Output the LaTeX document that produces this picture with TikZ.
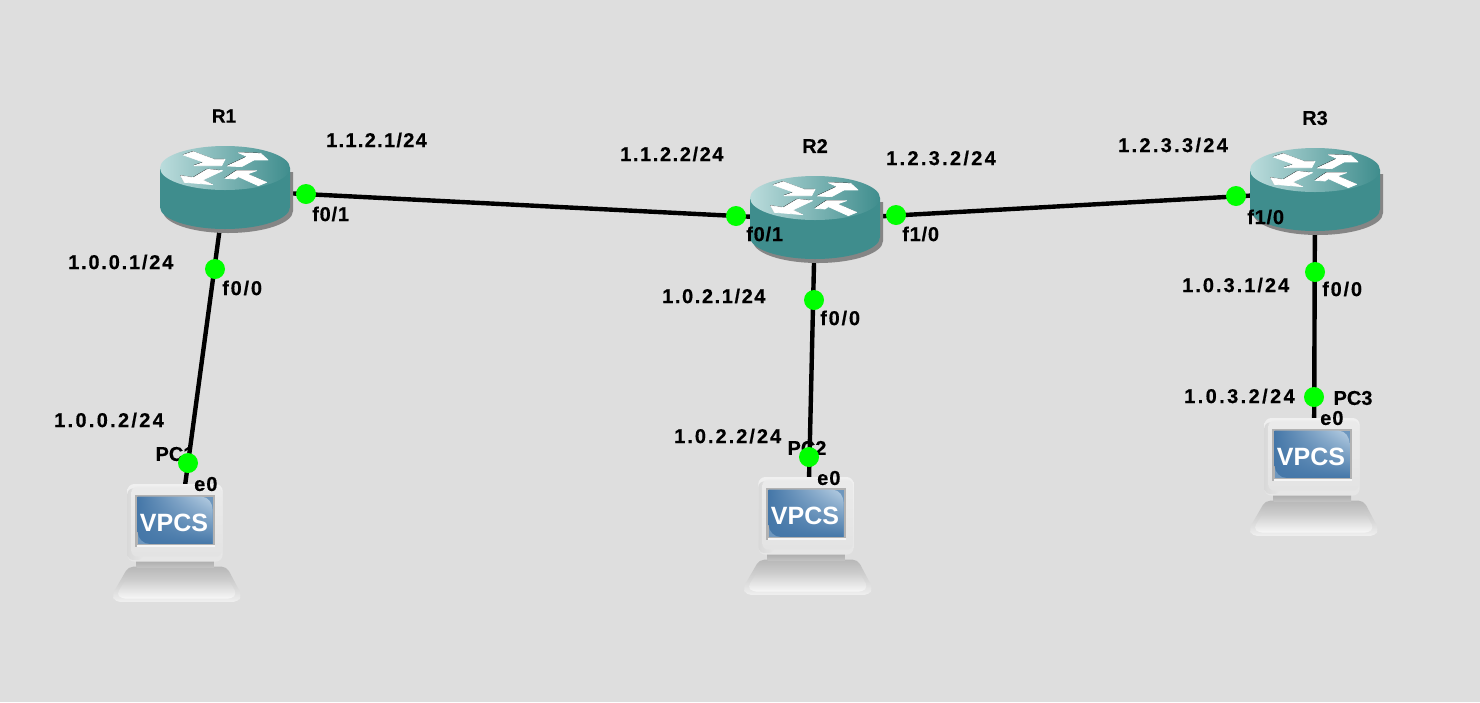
\documentclass[tikz,border=0pt]{standalone}
\usepackage{fontspec}
\usetikzlibrary{shadings}
\setmainfont{Liberation Sans}
\definecolor{bgc}{HTML}{DEDEDE}
\definecolor{teal1}{HTML}{3F8D8D}
\definecolor{teal2}{HTML}{BBDCDC}
\definecolor{shadowc}{HTML}{858585}
\definecolor{port}{HTML}{00FF00}
\definecolor{scra}{HTML}{4577A8}
\definecolor{scrb}{HTML}{B9D0E4}
\definecolor{scrc}{HTML}{6E97BE}
\tikzset{
  lbl/.style={inner sep=0pt,anchor=west,font=\fontsize{20}{22}\selectfont\bfseries\addfontfeature{FakeBold=0.4},text=black},
  ctr/.style={lbl,anchor=center},
  dot/.style={circle,fill=port,inner sep=0pt,minimum size=20pt},
  link/.style={line width=4.4pt,black},
  iconbox/.style={inner sep=0pt,minimum width=130pt,minimum height=90pt},
  pcbox/.style={inner sep=0pt,minimum width=128pt,minimum height=118pt},
}
\newcommand{\arrowshapes}{%
  (160,165)--(190,155)--(252,178)--(285,178)--(275,197)--(192,197)--(222,187)--cycle
  (292,198)--(335,200)--(372,180)--(414,180)--(392,160)--(325,158)--(352,170)--cycle
  (152,227)--(163,247)--(248,254)--(218,240)--(278,212)--(232,208)--(190,233)--cycle
  (285,235)--(320,212)--(380,212)--(352,222)--(410,247)--(385,257)--(325,230)--(315,237)--cycle}
\newcommand{\routerart}[2]{%
  \begin{scope}[shift={(#1,#2)}]
    \fill[shadowc,shift={(3,4)}] (-65,-22) -- (-65,17) .. controls (-65,29.15) and (-35.9,39) .. (0,39)
      .. controls (35.9,39) and (65,29.15) .. (65,17) -- (65,-22) -- cycle;
    \fill[teal1] (-65,-22) -- (-65,17) .. controls (-65,29.15) and (-35.9,39) .. (0,39)
      .. controls (35.9,39) and (65,29.15) .. (65,17) -- (65,-22) -- cycle;
    \shade[left color=teal2,middle color=teal1,right color=teal1,draw=none]
      (-65,-22) .. controls (-65,-34.15) and (-35.9,-44) .. (0,-44)
      .. controls (35.9,-44) and (65,-34.15) .. (65,-22)
      .. controls (65,-9.85) and (35.9,0) .. (0,0)
      .. controls (-35.9,0) and (-65,-9.85) .. (-65,-22) -- cycle;
    \begin{scope}[shift={(-95,-90)},scale=0.3333]
      \fill[black,shift={(-1.5,-1.5)}] \arrowshapes;
      \filldraw[white,line width=0.7pt,line join=round] \arrowshapes;
    \end{scope}
  \end{scope}}
\newcommand{\pcart}[2]{%
  \begin{scope}[shift={(#1,#2)}]
    \begin{scope}[shift={(-87,-100)},scale=0.3333]
      % keyboard
      \shade[top color=black!28,bottom color=black!6,rounded corners=5pt]
        (115,410)--(410,410)--(455,495)--(445,516)--(75,516)--(66,495)--cycle;
      \shade[top color=black!21,bottom color=black!3,rounded corners=4pt]
        (110,445)--(415,445)--(440,492)--(425,506)--(95,506)--(80,492)--cycle;
      % neck
      \shade[top color=black!33,bottom color=black!24] (140,390) rectangle (372,412);
      % monitor
      \shade[top color=black!6,bottom color=black!10,rounded corners=7pt] (112,162) rectangle (398,395);
      \shade[left color=black!15,right color=black!10,rounded corners=6pt] (112,175) rectangle (160,390);
      \shade[top color=black!8,bottom color=black!11,rounded corners=6pt] (124,170) rectangle (396,380);
      % screen frame
      \fill[black!30] (136,195) rectangle (375,350);
      \fill[black!4] (141,345) rectangle (375,352);
      \fill[scrc] (143,200) rectangle (368,342);
      \shade[lower left=scra,upper right=scrb,upper left=scra,lower right=scra]
        (143,200) -- (335,200) .. controls (355,200) and (368,220) .. (368,240)
        -- (368,342) -- (180,342) .. controls (160,342) and (143,325) .. (143,305) -- cycle;
      \node[inner sep=0pt,text=white,font=\fontsize{25}{26}\selectfont\bfseries] at (252,278) {VPCS};
    \end{scope}
  \end{scope}}
\begin{document}
\begin{tikzpicture}[x=1pt,y=-1pt]
\useasboundingbox (0,0) rectangle (1480,702);
\fill[bgc] (0,0) rectangle (1480,702);
% anchor nodes of the icons
\node[iconbox] (r1) at (225,190) {};
\node[iconbox] (r2) at (815,220) {};
\node[iconbox] (r3) at (1315,192) {};
\node[pcbox] (pc1) at (179,530) {};
\node[pcbox] (pc2) at (808,523) {};
\node[pcbox] (pc3) at (1314,464) {};
% labels lying under the links
\node[ctr] (lpc1) at (175,454) {PC1};
\node[ctr] (lpc2) at (807,448) {PC2};
% links
\draw[link] (r1.center) -- (r2.center);
\draw[link] (r2.center) -- (r3.center);
\draw[link] (r1.center) -- (pc1.center);
\draw[link] (r2.center) -- (pc2.center);
\draw[link] (r3.center) -- (pc3.center);
% icons
\routerart{225}{190}
\routerart{815}{220}
\routerart{1315}{192}
\pcart{177}{530}
\pcart{808}{523}
\pcart{1314}{464}
% port dots
\node[dot] (p1) at (306,194) {};
\node[dot] (p2) at (215,269) {};
\node[dot] (p3) at (188,463) {};
\node[dot] (p4) at (736,216) {};
\node[dot] (p5) at (896,215) {};
\node[dot] (p6) at (814,300) {};
\node[dot] (p7) at (809,457) {};
\node[dot] (p8) at (1236,196) {};
\node[dot] (p9) at (1315,272) {};
\node[dot] (p10) at (1314,397) {};
% device names
\node[ctr,font=\fontsize{19}{21}\selectfont\bfseries\addfontfeature{FakeBold=0.4}] (nr1) at (224,116) {R1};
\node[ctr] (nr2) at (815,146) {R2};
\node[ctr] (nr3) at (1315,118) {R3};
\node[ctr] (lpc3) at (1353,398) {PC3};
% interface names
\node[lbl] (f1) at (312,214) {\addfontfeature{LetterSpace=4}f0/1};
\node[lbl] (f2) at (222,288) {\addfontfeature{LetterSpace=9}f0/0};
\node[lbl] (e1) at (194,484) {\addfontfeature{LetterSpace=5}e0};
\node[lbl] (f3) at (746,234) {\addfontfeature{LetterSpace=4}f0/1};
\node[lbl] (f4) at (902,234) {\addfontfeature{LetterSpace=4}f1/0};
\node[lbl] (f5) at (820,318) {\addfontfeature{LetterSpace=9}f0/0};
\node[lbl] (e2) at (817,478) {\addfontfeature{LetterSpace=5}e0};
\node[lbl] (f6) at (1247,217) {\addfontfeature{LetterSpace=4}f1/0};
\node[lbl] (f7) at (1322,289) {\addfontfeature{LetterSpace=9}f0/0};
\node[lbl] (e3) at (1320,418) {\addfontfeature{LetterSpace=5}e0};
% addresses
\node[lbl] (a1) at (326,140) {\addfontfeature{LetterSpace=6.5}1.1.2.1/24};
\node[lbl] (a2) at (68,262) {\addfontfeature{LetterSpace=9}1.0.0.1/24};
\node[lbl] (a3) at (54,420) {\addfontfeature{LetterSpace=11.5}1.0.0.2/24};
\node[lbl] (a4) at (620,154) {\addfontfeature{LetterSpace=8}1.1.2.2/24};
\node[lbl] (a5) at (886,158) {\addfontfeature{LetterSpace=11.5}1.2.3.2/24};
\node[lbl] (a6) at (662,296) {\addfontfeature{LetterSpace=8}1.0.2.1/24};
\node[lbl] (a7) at (674,436) {\addfontfeature{LetterSpace=10}1.0.2.2/24};
\node[lbl] (a8) at (1118,145) {\addfontfeature{LetterSpace=11.5}1.2.3.3/24};
\node[lbl] (a9) at (1182,285) {\addfontfeature{LetterSpace=10}1.0.3.1/24};
\node[lbl] (a10) at (1184,396) {\addfontfeature{LetterSpace=12}1.0.3.2/24};
\end{tikzpicture}
\end{document}
